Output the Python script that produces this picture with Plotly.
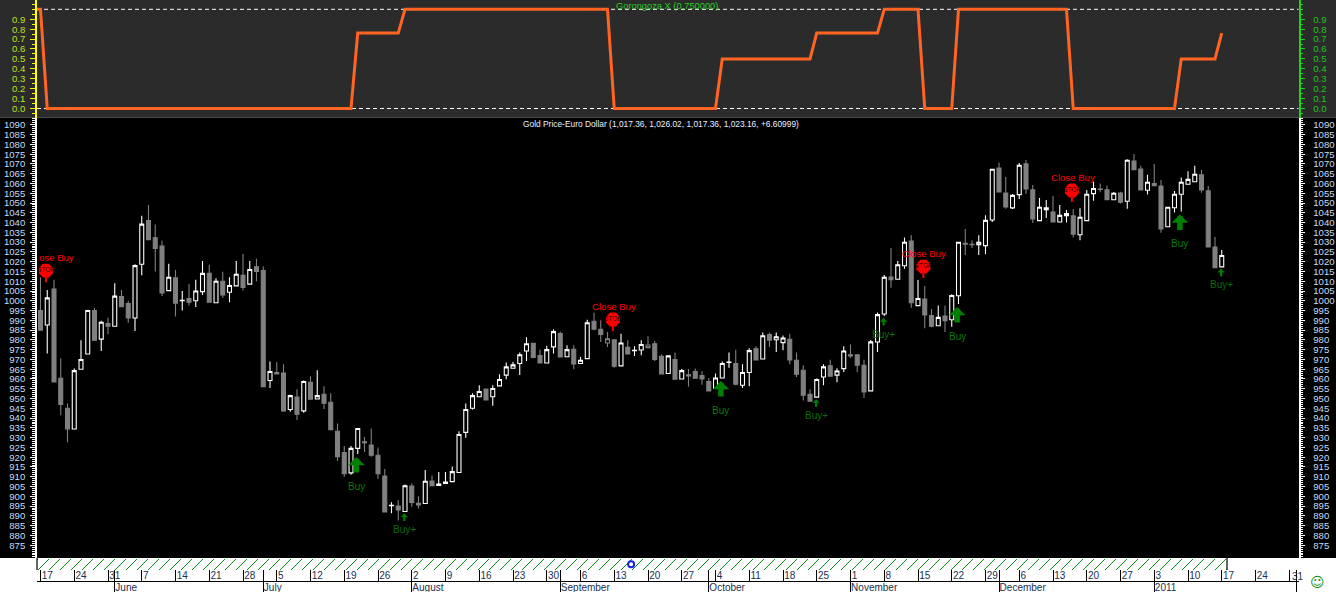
import plotly.graph_objects as go

FONT = "Liberation Sans"
W, H = 1336, 592

# ---------- price series (bars 0..175, one per business day from 17 May 2010) ----------
opens = [995,987.6,1006,960.4,945,934.4,965,972.8,995,980.4,988.3,987,1002.2,998.6,991.2,1018.7,1041,1032.2,1028,1005.2,
1011.7,1000,1001.2,1000,1004.7,1014,999,1010,1004.4,1007.6,1013,1008.5,1017.4,1015.5,959.2,963.3,963,944.4,950.7,943.7,
958.3,949.8,952.2,948.1,933.3,922.4,912,924.5,927.9,926.2,921,910.4,895.2,895,892.2,905.3,896.4,896.3,907.8,905.6,
906.6,907.5,912.2,932.7,945,950.9,954.8,950.9,956.5,962,965.5,967.9,974.3,978.2,972,968.2,976.4,983.3,971.4,975.2,
967.9,970.4,989.5,985.4,978.4,980.1,966.7,976.2,974.5,974.8,977.4,978,971.6,962.8,969.9,960,962.2,963.8,961.7,958.7,
955.1,960.5,968.4,967.9,956.8,963.3,975.5,970.2,982.7,980.1,978.6,980.3,969.6,964.5,952.2,950.7,961,966.8,962,965.3,
972.4,972.4,967,953.9,978.9,993.2,1012.1,1011,1017.9,1030.6,997.5,1000.9,992.5,987.2,992.2,990.3,1002.6,1029.4,1028.9,1028.7,
1028.2,1041.3,1067.9,1055.1,1047.5,1054.3,1070,1056.7,1041,1046.6,1045.4,1040.3,1043.5,1043.4,1033.8,1041,1054.8,1057.2,1056.7,1051.7,
1055.1,1050.9,1071.5,1067.4,1056.5,1060,1058.7,1037.9,1047.6,1054.5,1059.6,1060.9,1064.4,1056.2,1027.5,1017.36]
highs = [1012,1005.5,1010.7,970.6,947.5,965.3,979.8,995.4,996.4,989.8,991.3,1009,1005.5,1000,1018.7,1043.5,1049,1039,1030.7,1019,
1015.8,1005,1008.6,1010.7,1020.4,1018.4,1011.5,1014.8,1012,1020.4,1024,1020.4,1021.5,1017.5,969,968.5,967.5,952,954.8,959.2,
961.4,964.5,956.3,952.7,937.2,925.7,925.7,934.7,930.3,934.7,925,914,897,898,906,906.6,900,913.4,910.7,912.4,
912.4,915.3,933.3,947.4,952.7,956.8,954.8,956.8,962.4,968.4,968.7,973.6,981.3,978.2,975,977,985.4,984.2,977.2,977.2,
971.3,990.3,993.9,990,984,980.1,983.2,979.8,976.7,979.8,981.8,979.4,972.6,971.8,973.5,965.1,965.1,965.3,964,960.5,
962.8,968.9,973.6,975,967.5,975.7,976.7,983.8,983.8,983.8,982.3,983.2,973.6,967,954.6,960.2,967.5,969.9,965.5,976.7,
977.7,972.4,969.9,980,994,1013.2,1027,1020.3,1032.4,1033.5,1010.6,1007.5,995.8,997.6,997.6,1003.4,1029.9,1036.7,1030.8,1033.5,
1043.7,1067.3,1070.7,1063.3,1054.6,1070.5,1072,1059.2,1052.6,1051.6,1053.6,1049,1046.4,1047,1047.3,1056.7,1060.9,1060,1059,1055.6,
1055.8,1072.4,1075.1,1069,1064.4,1070,1061.8,1047.8,1056.2,1063,1066.2,1069,1066.9,1058.7,1032.6,1026.02]
lows = [985,973,958.5,941.5,927.7,934.4,965,972.8,979.4,974.3,983,987,996.8,988.8,984.5,1013,1031,1015,1002.5,1005,
992,995,997.6,996.8,1003,999,999,1001.6,999.3,1007.6,1005.2,1008.5,1010,956,955.4,962.6,943.2,943.2,939,942.7,
949.7,949.8,944.6,934,918,910,911,921.6,922.6,920.2,908.8,892,891.3,887.6,892.2,894.7,893.7,896.3,905.4,905.6,
906.6,907.5,912.2,929.9,944.4,950.9,949.3,946.3,956.5,959.9,965.5,962,969.2,970.6,968.2,968.2,973,971.3,971.4,965,
967.9,970.4,984.9,978.9,976.4,965.8,966.7,972.8,971.8,972.1,976,969.2,962.6,962.8,959.9,960,956,960.4,957,953.9,
955.1,960.5,965.8,956.8,955.4,956.3,969.7,970.2,976.4,973.8,974.7,967.5,961,949,948.6,950.7,956.8,961.4,958.3,963.6,
970.7,963.4,950.3,953.9,973.8,992.2,1006.7,1011,1016.4,996.4,997.5,986,986.5,987.2,984,986.7,998.3,1023.4,1027,1023.4,
1023.9,1040.3,1055.6,1047.1,1047,1052,1054.6,1039.8,1041,1042.3,1040.3,1040.3,1040,1032.3,1031,1041,1051.2,1055.5,1051.7,1051.7,
1049.8,1047.1,1067.1,1056.7,1054.3,1058.9,1034.8,1037.9,1045.1,1045.6,1059.6,1060.9,1055.3,1027.5,1016.9,1017.36]
closes = [985,1001.5,958.5,947,934.4,964.3,970,995,979.8,989,987,1002.4,997,991.2,1018,1039.2,1031.2,1026.8,1004,1012,
998.8,1000.2,999.3,1005,1014,999.3,1010,1003,1007.8,1013.6,1006.8,1016,1015,956,963.8,962.6,943.7,951.5,942,958.7,
949.7,951.5,947.6,934,920.2,911.6,924.5,934.7,927.4,921,911.6,892,895.4,893,905.4,896.8,895.6,907.7,905.4,906.3,
907.3,912.6,931.6,944.4,951.5,953.6,949.3,955.1,959.7,966.2,967.2,972.4,978,971,968.2,975,984.2,971.3,975,967.7,
969.6,988.8,985.4,982.8,980.6,966.5,978.4,972.8,974.7,977.6,976,970,962.6,971.8,959.9,964.3,961.6,960.4,960,953.9,
960.5,967.9,968.6,957.3,963.3,974.5,969.7,982.1,979.9,981.6,981,969.7,962.4,951.7,948.6,959.7,966.2,961.4,964.1,974.3,
971.8,967,953.4,979,992.9,1012,1010.8,1018.4,1029.9,999,1001.2,992.7,987,991.5,989.8,1002.7,1029.9,1029,1028.7,1029.9,
1041.1,1067.3,1055.6,1048,1053.9,1069.3,1057.2,1041.8,1047.8,1047.6,1040.3,1043.7,1044.6,1034.1,1042.7,1054.5,1057.4,1057,1051.7,1055,
1050.4,1071.9,1067.1,1056.7,1060.6,1058.9,1036.7,1047.8,1054.5,1060.6,1062.1,1064.7,1056.7,1027.5,1016.9,1023.16]
dim_hollow_bars = [84, 90]   # small up-days drawn with a grey outline

# ---------- oscillator (break points of the line) ----------
osc_bar = [-1,0,1,46,47,53,54,84,85,100,101,114,115,124,125,130,131,135,136,152,153,168,169,174,175]
osc_val = [1,1,0,0,0.76,0.76,1,1,0,0,0.5,0.5,0.76,0.76,1,1,0,0,1,1,0,0,0.5,0.5,0.76]

# ---------- signals ----------
stop_bar = [1, 85, 131, 153]
stop_val = [1015.4, 990.4, 1017.5, 1056.4]
buy_bar = [47, 101, 136, 169]
buyplus_bar = [54, 115, 125, 175]

# ---------- axes ----------
price_ticks = list(range(875, 1095, 5))
osc_ticks = [0.0,0.1,0.2,0.3,0.4,0.5,0.6,0.7,0.8,0.9]
week_bars = list(range(0, 186, 5))
week_labels = ["17","24","31","7","14","21","28","5","12","19","26","2","9","16","23","30","6","13","20","27",
               "4","11","18","25","1","8","15","22","29","6","13","20","27","3","10","17","24","31"]
month_bars = [11,33,55,77,99,120,142,165,186]
month_labels = ["June","July","August","September","October","November","December","2011",""]

title_text = "Gold Price-Euro Dollar (1,017.36, 1,026.02, 1,017.36, 1,023.16, +6.60999)"
osc_title = "Gorongoza X (0.750000)"

# ---------- geometry helpers (pixels -> paper) ----------
px = lambda x: x / W
py = lambda y: 1 - y / H
X0, X1 = 37.0, 1298.5
BAR0, BARW = 40.5, 6.75
xrange_ = [(X0 - BAR0) / BARW, (X1 - BAR0) / BARW]
xdom = [px(X0), px(X1)]
OSC_RANGE = [-(117.5 - 108.5) / 99.2, 1 + 9.3 / 99.2]
PRICE_RANGE = [1090 - (558 - 125.3) / 1.953, 1090 + (125.3 - 118) / 1.953]

fig = go.Figure()

all_i = list(range(len(opens)))
main_i = [i for i in all_i if i not in dim_hollow_bars]


def candle(idx, up_line, up_fill, dn_line, dn_fill):
    return go.Candlestick(
        x=idx, open=[opens[i] for i in idx], high=[highs[i] for i in idx],
        low=[lows[i] for i in idx], close=[closes[i] for i in idx],
        increasing=dict(line=dict(color=up_line, width=1.1), fillcolor=up_fill),
        decreasing=dict(line=dict(color=dn_line, width=1.1), fillcolor=dn_fill),
        xaxis="x", yaxis="y2", showlegend=False, hoverinfo="skip")


fig.add_trace(candle(main_i, "#ffffff", "#000000", "#808080", "#808080"))
fig.add_trace(candle(dim_hollow_bars, "#808080", "#000000", "#808080", "#000000"))

# oscillator
fig.add_trace(go.Scatter(x=osc_bar, y=osc_val, mode="lines", xaxis="x", yaxis="y",
                         line=dict(color="#ff6422", width=3), showlegend=False, hoverinfo="skip"))

# stop signs
fig.add_trace(go.Scatter(x=[b - 0.2 for b in stop_bar], y=stop_val, mode="markers+text", xaxis="x", yaxis="y2",
                         marker=dict(symbol="octagon", size=15, color="#ff0000", line=dict(width=0)),
                         text=["STOP"] * len(stop_bar), textposition="middle center",
                         textfont=dict(family=FONT, size=6.5, color="#200000"),
                         showlegend=False, hoverinfo="skip"))

# little scroll handle in the hatched strip
fig.add_trace(go.Scatter(x=[87.5], y=[0.5], mode="markers", xaxis="x", yaxis="y3",
                         marker=dict(symbol="circle", size=6, color="#ffffff", line=dict(color="#2020e0", width=2)),
                         showlegend=False, hoverinfo="skip"))

annotations = []
ann_font = lambda c, s=10: dict(family=FONT, size=s, color=c)

for k, (b, v) in enumerate(zip(stop_bar, stop_val)):
    # stem
    annotations.append(dict(x=b - 0.2, y=v, xref="x", yref="y2", ax=0, ay=13, axref="pixel", ayref="pixel",
                            text="", showarrow=True, arrowhead=0, arrowwidth=2, arrowcolor="#ff0000"))
    if k == 0:
        annotations.append(dict(x=px(37), y=v, xref="paper", yref="y2", xanchor="left", yanchor="middle", yshift=13,
                                text="ose Buy", showarrow=False, font=ann_font("#ff0000", 9.6)))
    else:
        annotations.append(dict(x=b - 0.1, y=v, xref="x", yref="y2", xanchor="center", yanchor="middle", yshift=13,
                                text="Close Buy", showarrow=False, font=ann_font("#ff0000", 9.6)))

for b in buy_bar:
    annotations.append(dict(x=b - 0.2, y=lows[b], xref="x", yref="y2", ax=0, ay=20, axref="pixel", ayref="pixel",
                            standoff=3, text="", showarrow=True, arrowhead=1, arrowwidth=5.5, arrowsize=0.5,
                            arrowcolor="#008000"))
    annotations.append(dict(x=b - 0.2, y=lows[b], xref="x", yref="y2", xanchor="center", yanchor="middle", yshift=-32,
                            text="Buy", showarrow=False, font=ann_font("#0a7a0a")))
for b in buyplus_bar:
    annotations.append(dict(x=b - 0.1, y=lows[b], xref="x", yref="y2", ax=0, ay=11, axref="pixel", ayref="pixel",
                            standoff=2, text="", showarrow=True, arrowhead=1, arrowwidth=2.2, arrowsize=0.55,
                            arrowcolor="#008000"))
    annotations.append(dict(x=b - 0.1, y=lows[b], xref="x", yref="y2", xanchor="center", yanchor="middle", yshift=-18,
                            text="Buy+", showarrow=False, font=ann_font("#0a6a0a")))

annotations.append(dict(x=px(660.5), y=py(124), xref="paper", yref="paper", xanchor="center", yanchor="middle",
                        text=title_text, showarrow=False, font=ann_font("#e8f0ff", 8.4)))
annotations.append(dict(x=px(667), y=py(6.5), xref="paper", yref="paper", xanchor="center", yanchor="middle",
                        text=osc_title, showarrow=False, font=ann_font("#22d022", 9.3)))
annotations.append(dict(x=px(1317), y=py(582), xref="paper", yref="paper", xanchor="center", yanchor="middle",
                        text="\u263a", showarrow=False, font=dict(family="DejaVu Sans", size=14, color="#109020")))
# the last weekly label runs past the axis end, so plotly's tick label would be dropped
annotations.append(dict(x=week_bars[-1], y=py(576), xref="x", yref="paper", xanchor="left", yanchor="middle", xshift=1,
                        text=week_labels[-1], showarrow=False, font=ann_font("#18304f")))

shapes = [
    dict(type="rect", xref="paper", yref="paper", x0=0, x1=1, y0=py(117.5), y1=1, fillcolor="#2b2b2b",
         line_width=0, layer="below"),
    dict(type="rect", xref="paper", yref="paper", x0=0, x1=1, y0=py(558), y1=py(117.5), fillcolor="#000000",
         line_width=0, layer="below"),
]
for level in (0, 1):
    shapes.append(dict(type="line", xref="x domain", yref="y", x0=0, x1=1, y0=level, y1=level,
                       line=dict(color="#ffffff", width=1, dash="4px,3px"), layer="below"))

# hatched strip: thin 45-degree strokes, clipped to the strip
STRIP_L, STRIP_R, STRIP_T, STRIP_B, STEP = 37.0, 1227.0, 559.0, 570.0, 11.0
strokes = []
xb = STRIP_L + 1 - STEP
while xb < STRIP_R:
    xa, ya = xb, STRIP_B
    xc, yc = xb + (STRIP_B - STRIP_T), STRIP_T
    if xa < STRIP_L:
        ya -= STRIP_L - xa
        xa = STRIP_L
    if xc > STRIP_R:
        yc += xc - STRIP_R
        xc = STRIP_R
    strokes.append(f"M{px(xa):.5f},{py(ya):.5f}L{px(xc):.5f},{py(yc):.5f}")
    xb += STEP
shapes.append(dict(type="path", xref="paper", yref="paper", path="".join(strokes),
                   line=dict(color="#0a8a18", width=1), layer="below"))
# strip ends
shapes.append(dict(type="line", xref="paper", yref="paper", x0=px(37), x1=px(37), y0=py(570), y1=py(558),
                   line=dict(color="#000000", width=1.2)))
shapes.append(dict(type="line", xref="paper", yref="paper", x0=px(STRIP_R), x1=px(STRIP_R), y0=py(570), y1=py(558),
                   line=dict(color="#000000", width=1.2)))

base_x = dict(range=xrange_, domain=xdom, showgrid=False, zeroline=False, rangeslider=dict(visible=False),
              fixedrange=True)


def yax(rng, dom, side, color, labelcolor, vals, fmt, minor_dtick, ticklen, anchor="x", overlaying=None, standoff=3):
    d = dict(range=rng, domain=dom, side=side, showline=True, linecolor=color, linewidth=1.6, ticks="outside",
             tickcolor=color, tickwidth=1, ticklen=ticklen, tickmode="array", tickvals=vals, tickformat=fmt,
             tickfont=dict(family=FONT, size=9.6, color=labelcolor), showgrid=False, zeroline=False,
             anchor=anchor, fixedrange=True, ticklabelstandoff=standoff,
             minor=dict(tickmode="linear", dtick=minor_dtick, tick0=0, ticks="outside", ticklen=3,
                        tickcolor=color, tickwidth=1, showgrid=False))
    if overlaying:
        d["overlaying"] = overlaying
    return d


osc_dom = [py(117.5), 1]
price_dom = [py(558), py(117.5)]
fig.update_layout(
    width=W, height=H, autosize=False,
    margin=dict(l=0, r=0, t=0, b=0), paper_bgcolor="#ffffff", plot_bgcolor="rgba(0,0,0,0)",
    showlegend=False, boxgap=0.16, shapes=shapes, annotations=annotations,
    xaxis=dict(base_x, anchor="y2", showticklabels=False, ticks="", showline=False),
    xaxis2=dict(base_x, overlaying="x", anchor="free", position=py(581), side="bottom", showline=True,
                linecolor="#000000", linewidth=1.2, ticks="inside", ticklen=11, tickcolor="#000000", tickwidth=1.2,
                tickmode="array", tickvals=week_bars, ticktext=week_labels, ticklabelposition="inside right",
                ticklabelstandoff=-4,
                tickfont=dict(family=FONT, size=10, color="#18304f")),
    xaxis3=dict(base_x, overlaying="x", anchor="free", position=0, side="bottom", showline=False,
                ticks="inside", ticklen=22, tickcolor="#000000", tickwidth=1.2,
                tickmode="array", tickvals=month_bars, ticktext=month_labels, ticklabelposition="inside right",
                ticklabelstandoff=-7,
                tickfont=dict(family=FONT, size=10, color="#18304f")),
    yaxis=yax(OSC_RANGE, osc_dom, "left", "#ffff00", "#bfe020", osc_ticks, ".1f", 0.05, 5),
    yaxis4=yax(OSC_RANGE, osc_dom, "right", "#19d419", "#1fc41f", osc_ticks, ".1f", 0.05, 5,
               overlaying="y", anchor="x", standoff=6),
    yaxis2=yax(PRICE_RANGE, price_dom, "left", "#ffffff", "#c4defc", price_ticks, "d", 1, 5),
    yaxis5=yax(PRICE_RANGE, price_dom, "right", "#ffffff", "#c4defc", price_ticks, "d", 1, 5,
               overlaying="y2", anchor="x", standoff=6),
    yaxis3=dict(range=[0, 1], domain=[py(570), py(558.5)], anchor="x", showgrid=False, zeroline=False,
                showticklabels=False, ticks="", fixedrange=True),
)
# keep the extra axes alive with empty carrier traces
fig.add_trace(go.Scatter(x=[None], y=[None], xaxis="x", yaxis="y4", showlegend=False, hoverinfo="skip"))
fig.add_trace(go.Scatter(x=[None], y=[None], xaxis="x", yaxis="y5", showlegend=False, hoverinfo="skip"))
fig.add_trace(go.Scatter(x=[None], y=[None], xaxis="x2", yaxis="y3", showlegend=False, hoverinfo="skip"))
fig.add_trace(go.Scatter(x=[None], y=[None], xaxis="x3", yaxis="y3", showlegend=False, hoverinfo="skip"))

fig.write_html("out.html", config=dict(displayModeBar=False), post_script="document.body.style.margin='0';")
